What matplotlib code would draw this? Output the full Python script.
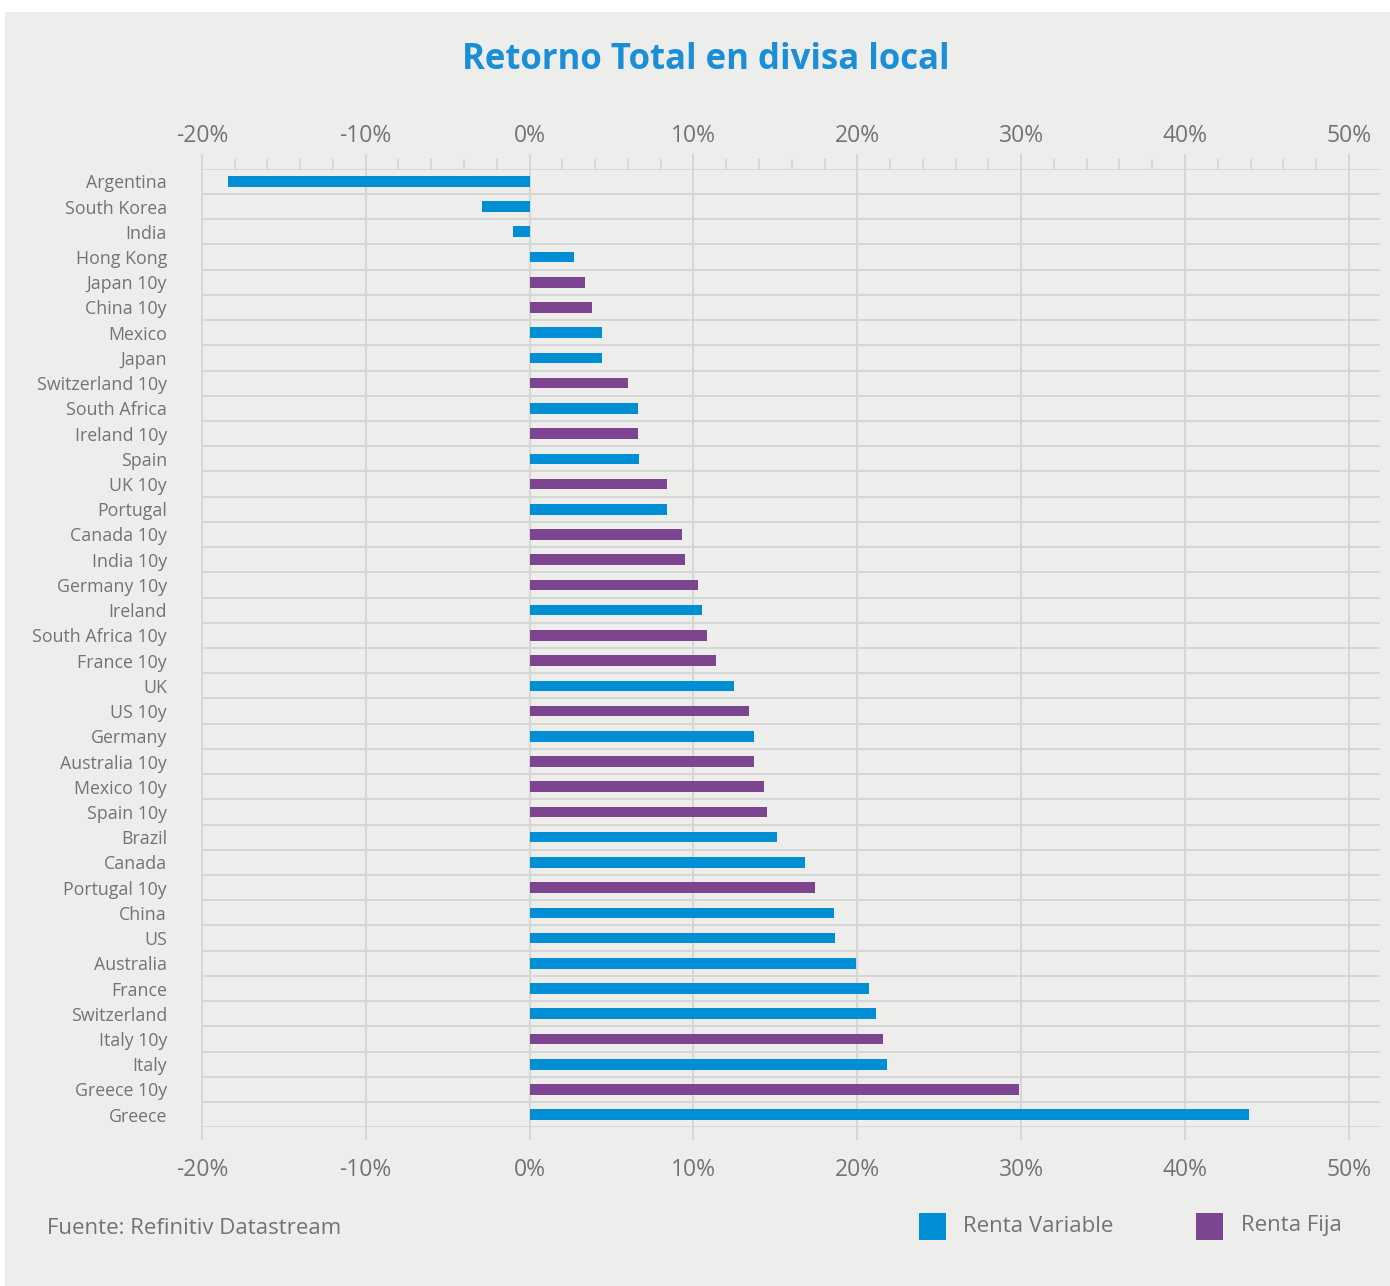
import numpy as np
import matplotlib.pyplot as plt
from matplotlib.patches import Rectangle

plt.rcParams['font.family'] = ['Open Sans', 'DejaVu Sans']

# data (top to bottom)
names = ["Argentina", "South Korea", "India", "Hong Kong", "Japan 10y", "China 10y",
         "Mexico", "Japan", "Switzerland 10y", "South Africa", "Ireland 10y", "Spain",
         "UK 10y", "Portugal", "Canada 10y", "India 10y", "Germany 10y", "Ireland",
         "South Africa 10y", "France 10y", "UK", "US 10y", "Germany", "Australia 10y",
         "Mexico 10y", "Spain 10y", "Brazil", "Canada", "Portugal 10y", "China", "US",
         "Australia", "France", "Switzerland", "Italy 10y", "Italy", "Greece 10y", "Greece"]
returns = [-18.4, -2.9, -1.0, 2.7, 3.4, 3.8,
           4.45, 4.45, 6.0, 6.6, 6.6, 6.7,
           8.4, 8.4, 9.3, 9.5, 10.3, 10.5,
           10.85, 11.4, 12.45, 13.4, 13.7, 13.7,
           14.3, 14.5, 15.1, 16.8, 17.4, 18.55, 18.65,
           19.9, 20.7, 21.15, 21.6, 21.8, 29.9, 43.9]
asset = ["RV" if "10y" not in n else "RF" for n in names]

x_ticks = [-20, -10, 0, 10, 20, 30, 40, 50]
x_labels = ["-20%", "-10%", "0%", "10%", "20%", "30%", "40%", "50%"]

blue = "#008FD5"
purple = "#7D458F"
grid_c = "#D6D6D6"
txt_c = "#737373"
colors = {"RV": blue, "RF": purple}
labels = {"RV": "Renta Variable", "RF": "Renta Fija"}

W, H = 1390, 1286
fig = plt.figure(figsize=(W / 100, H / 100), dpi=100, facecolor="white")
fig.patches.append(Rectangle((5 / W, 0), 1 - 5 / W, 1 - 12 / H, transform=fig.transFigure,
                             facecolor="#EDEDEB", edgecolor="none", zorder=-5))

ax_l, ax_r, ax_t, ax_b = 201, 1380, 168.7, 1127.3
ax = fig.add_axes([ax_l / W, 1 - ax_b / H, (ax_r - ax_l) / W, (ax_b - ax_t) / H])
ax.set_facecolor("none")

y = np.arange(len(names))
ax.barh(y, returns, height=0.42, color=[colors[a] for a in asset], zorder=3)

ax.set_xlim(-20.05, 51.9)
ax.set_ylim(len(names) - 0.5, -0.5)

# row separators
for b in np.arange(-0.5, len(names), 1.0):
    ax.axhline(b, color=grid_c, lw=1.4, zorder=1)
# vertical gridlines
for t in x_ticks:
    ax.axvline(t, color=grid_c, lw=1.4, zorder=1)

for s in ax.spines.values():
    s.set_visible(False)

# bottom axis
ax.set_xticks(x_ticks)
ax.set_xticklabels(x_labels)
ax.tick_params(axis="x", which="major", top=False, bottom=True, length=9, width=1.4,
               color=grid_c, labelsize=16.5, labelcolor=txt_c, pad=13)

# top axis with minor ticks
top = ax.secondary_xaxis("top")
top.set_xticks(x_ticks)
top.set_xticklabels(x_labels)
top.set_xticks(np.arange(-20, 51, 2), minor=True)
top.tick_params(axis="x", which="major", length=11, width=1.4, color=grid_c,
                labelsize=16.5, labelcolor=txt_c, pad=4)
top.tick_params(axis="x", which="minor", length=7.2, width=1.2, color=grid_c)
top.spines["top"].set_visible(False)

ax.set_yticks(y)
ax.set_yticklabels(names)
ax.tick_params(axis="y", length=0, pad=24.5, labelsize=12.8, labelcolor=txt_c)

fig.text(706 / W, 1 - 60 / H, "Retorno Total en divisa local", ha="center", va="center",
         fontsize=25, fontweight="bold", color="#1A8FD7")
fig.text(47 / W, 1 - 1228 / H, "Fuente: Refinitiv Datastream", ha="left", va="center",
         fontsize=16, color=txt_c)

# legend
for key, sx, tx in [("RV", 919, 963), ("RF", 1196, 1241)]:
    fig.patches.append(Rectangle((sx / W, 1 - 1240 / H), 27 / W, 27 / H, transform=fig.transFigure,
                                 facecolor=colors[key], edgecolor="none", zorder=2))
    fig.text(tx / W, 1 - 1226 / H, labels[key], ha="left", va="center", fontsize=16, color=txt_c)

fig.savefig("out.png", dpi=100, facecolor=fig.get_facecolor())
